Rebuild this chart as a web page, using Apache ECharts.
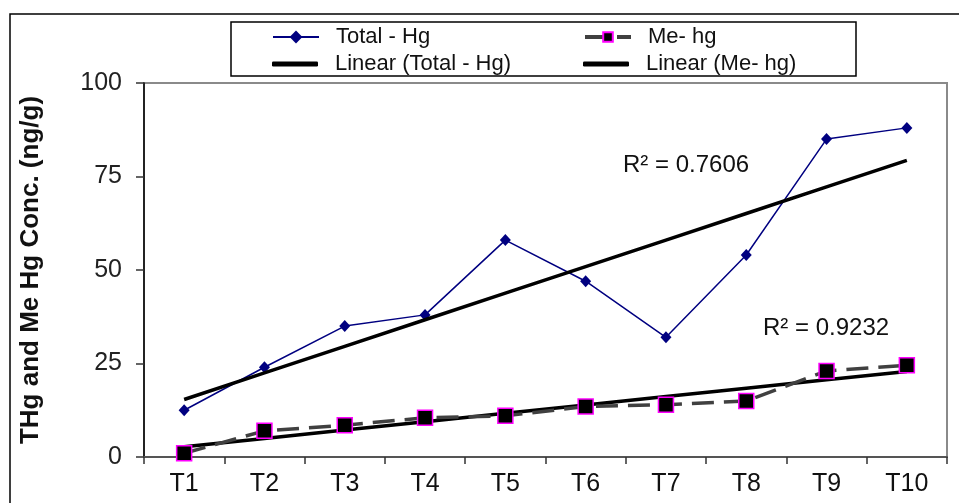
<!DOCTYPE html>
<html>
<head>
<meta charset="utf-8">
<script src="https://cdn.jsdelivr.net/npm/echarts@6/dist/echarts.min.js"></script>
<style>
html,body{margin:0;padding:0;background:#fff;}
#c{width:959px;height:503px;}
</style>
</head>
<body>
<div id="c"></div>
<script>
const categories = ['T1','T2','T3','T4','T5','T6','T7','T8','T9','T10'];
const totalHg = [12.5, 24, 35, 38, 58, 47, 32, 54, 85, 88];
const meHg = [1, 7, 8.5, 10.5, 11, 13.5, 14, 15, 23, 24.5];
const yTicks = {min: 0, max: 100, interval: 25};
const r2Total = 'R² = 0.7606';
const r2Me = 'R² = 0.9232';
const yTitle = 'THg and Me Hg Conc. (ng/g)';
const names = ['Total - Hg', 'Me- hg', 'Linear (Total - Hg)', 'Linear (Me- hg)'];

function linearTrend(vals){
  const n = vals.length;
  let sx=0, sy=0, sxx=0, sxy=0;
  vals.forEach((v,i)=>{const x=i+1; sx+=x; sy+=v; sxx+=x*x; sxy+=x*v;});
  const b = (n*sxy - sx*sy)/(n*sxx - sx*sx);
  const a = (sy - b*sx)/n;
  return vals.map((v,i)=>+(a + b*(i+1)).toFixed(3));
}
const trendTotal = linearTrend(totalHg);
const trendMe = linearTrend(meHg);

const FONT = "'Liberation Sans', Arial, sans-serif";
const chart = echarts.init(document.getElementById('c'), null, {renderer:'canvas'});

const legendText = {fontFamily: FONT, fontSize: 22, color: '#111', padding:[0,0,0,12]};
function mkLegend(item, left, top, extra){
  return Object.assign({data:[item], left:left, top:top, padding:0, itemWidth:46, itemHeight:12, itemGap:0,
    textStyle: legendText, selectedMode:false}, extra || {});
}

chart.setOption({
  animation:false,
  backgroundColor:'#fff',
  grid:{left:144, right:12, top:83, bottom:46, show:true, borderColor:'#8a8a8a', borderWidth:2, backgroundColor:'transparent'},
  legend:[
    mkLegend({name:names[0]}, 272, 26, {itemHeight:16}),
    mkLegend({name:names[1], lineStyle:{width:4}}, 583, 26),
    mkLegend({name:names[2], icon:'roundRect'}, 272, 53, {itemHeight:5}),
    mkLegend({name:names[3], icon:'roundRect'}, 583, 53, {itemHeight:5})
  ],
  xAxis:{
    type:'category', data:categories, boundaryGap:true,
    axisLine:{lineStyle:{color:'#555', width:2}},
    axisTick:{show:true, length:7, lineStyle:{color:'#333', width:1.5}},
    axisLabel:{fontFamily:FONT, fontSize:25, color:'#111', margin:15}
  },
  yAxis:{
    type:'value', min:yTicks.min, max:yTicks.max, interval:yTicks.interval,
    splitLine:{show:false},
    axisLine:{show:true, lineStyle:{color:'#000', width:1.5}},
    axisTick:{show:true, length:8, lineStyle:{color:'#333', width:1.5}},
    axisLabel:{fontFamily:FONT, fontSize:25, color:'#222', margin:22},
    name:yTitle, nameLocation:'middle', nameGap:100, nameRotate:90,
    nameTextStyle:{fontFamily:FONT, fontSize:26, fontWeight:'bold', color:'#111'}
  },
  series:[
    {name:names[0], type:'line', data:totalHg, symbol:'diamond', symbolSize:[11,12], z:3,
      lineStyle:{color:'#000080', width:1.5}, itemStyle:{color:'#000080'}},
    {name:names[1], type:'line', data:meHg, symbol:'rect', symbolSize:15, z:5,
      lineStyle:{color:'#404040', width:3.5, type:[22,10]},
      itemStyle:{color:'#000', borderColor:'#ff00ff', borderWidth:1.5}},
    {name:names[2], type:'line', data:trendTotal, symbol:'none', z:4,
      lineStyle:{color:'#000', width:3.5}, itemStyle:{color:'#000'}},
    {name:names[3], type:'line', data:trendMe, symbol:'none', z:4,
      lineStyle:{color:'#000', width:3.5}, itemStyle:{color:'#000'}}
  ],
  graphic:[
    {type:'rect', shape:{x:10, y:14, width:980, height:520}, style:{fill:'none', stroke:'#000', lineWidth:1.5}, silent:true, z:-10},
    {type:'rect', shape:{x:231, y:22, width:625, height:54}, style:{fill:'none', stroke:'#000', lineWidth:1.5}, silent:true},
    {type:'text', x:623, y:165, style:{text:r2Total, fontFamily:FONT, fontSize:24, fill:'#111', verticalAlign:'middle'}},
    {type:'text', x:763, y:328, style:{text:r2Me, fontFamily:FONT, fontSize:24, fill:'#111', verticalAlign:'middle'}}
  ]
});
</script>
</body>
</html>
